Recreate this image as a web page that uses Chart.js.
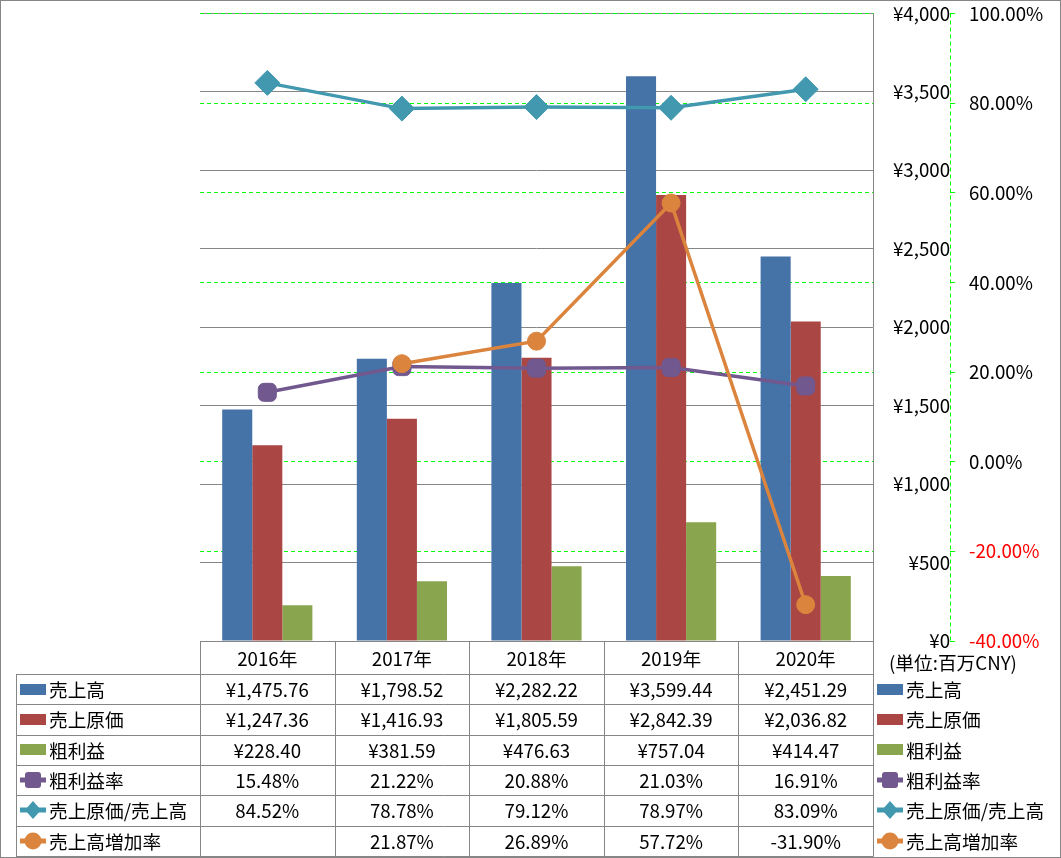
<!DOCTYPE html>
<html><head><meta charset="utf-8">
<script src="https://cdn.jsdelivr.net/npm/chart.js@4.4.0/dist/chart.umd.min.js"></script>
<style>
html,body{margin:0;padding:0;background:#fff;}
#wrap{position:relative;width:1061px;height:858px;overflow:hidden;}
#c{position:absolute;left:0;top:0;}
#tbl{position:absolute;left:0;top:0;width:1061px;height:858px;pointer-events:none;font-family:"Noto Sans CJK JP",sans-serif;font-size:18.7px;color:#000;}
#tbl div{position:absolute;white-space:nowrap;}
.ctr{text-align:center;}
</style></head><body>
<div id="wrap"><canvas id="c" width="1061" height="858"></canvas><div id="tbl"></div></div>
<script>
// ---- data ----
const years = ['2016年','2017年','2018年','2019年','2020年'];
const sales = [1475.76, 1798.52, 2282.22, 3599.44, 2451.29];
const cost = [1247.36, 1416.93, 1805.59, 2842.39, 2036.82];
const grossProfit = [228.40, 381.59, 476.63, 757.04, 414.47];
const grossMargin = [15.48, 21.22, 20.88, 21.03, 16.91];
const costRatio = [84.52, 78.78, 79.12, 78.97, 83.09];
const salesGrowth = [null, 21.87, 26.89, 57.72, -31.90];
const seriesNames = ['売上高', '売上原価', '粗利益', '粗利益率', '売上原価/売上高', '売上高増加率'];
const unitLabel = '(単位:百万CNY)';
const yenAxis = {min: 0, max: 4000, step: 500};
const pctAxis = {min: -40, max: 100, step: 20};

// ---- styles ----
const colors = ['#4572A7', '#AA4643', '#89A54E', '#71588F', '#4198AF', '#DB843D'];
const FONT = '"Noto Sans CJK JP", sans-serif';
const GRID = '#868686';
const LIME = '#00FF00';

const yenFmt = v => '¥' + v.toLocaleString('en-US', {minimumFractionDigits: 2, maximumFractionDigits: 2});
const pctFmt = v => (v === null ? '' : v.toFixed(2) + '%');
const tableRows = [
  sales.map(yenFmt), cost.map(yenFmt), grossProfit.map(yenFmt),
  grossMargin.map(pctFmt), costRatio.map(pctFmt), salesGrowth.map(pctFmt)
];
const kinds = ['bar', 'bar', 'bar', 'square', 'diamond', 'circle'];

function iconSVG(kind, color) {
  if (kind === 'bar') return {w: 26, h: 11, svg: `<svg width="26" height="11"><rect width="26" height="11" fill="${color}"/></svg>`};
  let m = '';
  if (kind === 'square') m = `<rect x="5" y="1" width="16" height="16" rx="3" fill="${color}"/>`;
  if (kind === 'diamond') m = `<polygon points="13,0 21,9 13,18 5,9" fill="${color}"/>`;
  if (kind === 'circle') m = `<circle cx="13" cy="9" r="8.5" fill="${color}"/>`;
  return {w: 26, h: 18, svg: `<svg width="26" height="18"><line x1="0" y1="9" x2="26" y2="9" stroke="${color}" stroke-width="5"/>${m}</svg>`};
}

const HEADER_H = 33, ROW_H = 30.33;
let built = false;

const framePlugin = {
  id: 'frame',
  afterDraw(chart) {
    const ctx = chart.ctx;
    const y1 = chart.scales.y1;
    const ca = chart.chartArea;
    const n = years.length;
    const colW = (ca.right - ca.left) / n;
    const edges = [];
    for (let i = 0; i <= n; i++) edges.push(ca.left + i * colW);
    const top = ca.bottom, hb = top + HEADER_H, bottom = hb + ROW_H * 6;
    const a = v => Math.round(v) + 0.5;
    ctx.save();
    ctx.strokeStyle = GRID; ctx.lineWidth = 1;
    ctx.beginPath();
    ctx.moveTo(edges[0], a(top)); ctx.lineTo(edges[n], a(top));
    for (let k = 0; k <= 6; k++) { const y = a(hb + k * ROW_H); ctx.moveTo(16, y); ctx.lineTo(a(edges[n]), y); }
    ctx.moveTo(16.5, a(hb)); ctx.lineTo(16.5, a(bottom));
    edges.forEach(e => { ctx.moveTo(a(e), a(top)); ctx.lineTo(a(e), a(bottom)); });
    ctx.stroke();
    // outer border
    ctx.strokeRect(0.5, 0.5, chart.width - 1, chart.height - 1);
    // dashed secondary axis line
    ctx.strokeStyle = LIME; ctx.setLineDash([4, 3]);
    ctx.beginPath(); ctx.moveTo(a(y1.left), ca.top); ctx.lineTo(a(y1.left), ca.bottom); ctx.stroke();
    ctx.restore();

    if (built) return;
    built = true;
    const t = document.getElementById('tbl');
    let html = '';
    years.forEach((yr, i) => {
      html += `<div class="ctr" style="left:${edges[i]}px;top:${top}px;width:${colW}px;height:${HEADER_H}px;line-height:${HEADER_H}px">${yr}</div>`;
    });
    seriesNames.forEach((name, r) => {
      const rt = hb + r * ROW_H, cy = rt + ROW_H / 2;
      const ic = iconSVG(kinds[r], colors[r]);
      html += `<div style="left:20px;top:${cy - ic.h / 2}px;width:${ic.w}px;height:${ic.h}px;line-height:0">${ic.svg}</div>`;
      html += `<div style="left:49px;top:${rt}px;height:${ROW_H}px;line-height:${ROW_H}px">${name}</div>`;
      tableRows[r].forEach((txt, i) => {
        html += `<div class="ctr" style="left:${edges[i]}px;top:${rt}px;width:${colW}px;height:${ROW_H}px;line-height:${ROW_H}px">${txt}</div>`;
      });
      const lx = edges[n] + 4;
      html += `<div style="left:${lx}px;top:${cy - ic.h / 2}px;width:${ic.w}px;height:${ic.h}px;line-height:0">${ic.svg}</div>`;
      html += `<div style="left:${lx + 29}px;top:${rt}px;height:${ROW_H}px;line-height:${ROW_H}px">${name}</div>`;
    });
    html += `<div style="left:${edges[n] + 16}px;top:${top + 9}px;height:24px;line-height:24px">${unitLabel}</div>`;
    t.innerHTML = html;
  }
};

const barDs = (label, data, color) => ({type: 'bar', label, data, backgroundColor: color, borderWidth: 0, yAxisID: 'y', order: 5});
const lineDs = (label, data, color, style, r, order) => ({
  type: 'line', label, data, borderColor: color, backgroundColor: color, borderWidth: 3.5,
  pointStyle: style, pointRadius: r, pointHoverRadius: r, pointBorderWidth: 1, pointBorderColor: color,
  pointBackgroundColor: color, tension: 0, yAxisID: 'y1', order, spanGaps: false
});

new Chart(document.getElementById('c'), {
  type: 'bar',
  data: {
    labels: years,
    datasets: [
      barDs(seriesNames[0], sales, colors[0]),
      barDs(seriesNames[1], cost, colors[1]),
      barDs(seriesNames[2], grossProfit, colors[2]),
      lineDs(seriesNames[3], grossMargin, colors[3], 'rectRounded', 10.5, 2),
      lineDs(seriesNames[4], costRatio, colors[4], 'rectRot', 12.5, 1),
      lineDs(seriesNames[5], salesGrowth, colors[5], 'circle', 9, 0)
    ]
  },
  options: {
    responsive: false, maintainAspectRatio: false, animation: false,
    layout: {padding: {left: 200, top: 13, right: 0, bottom: 217}},
    datasets: {bar: {categoryPercentage: 0.67, barPercentage: 1}},
    plugins: {legend: {display: false}, tooltip: {enabled: false}},
    font: {family: FONT, size: 18.7},
    scales: {
      x: {display: false, offset: true},
      y: {
        type: 'linear', position: 'right', weight: 0, min: yenAxis.min, max: yenAxis.max,
        afterFit: s => { s.width = 77; s.paddingTop = 0; s.paddingBottom = 0; },
        ticks: {stepSize: yenAxis.step, callback: v => '¥' + v.toLocaleString('en-US'), crossAlign: 'far', padding: 19,
          color: '#000', font: {family: FONT, size: 18.7}},
        grid: {color: GRID, lineWidth: 1, drawTicks: false},
        border: {display: true, color: GRID, width: 1}
      },
      y1: {
        type: 'linear', position: 'right', weight: 1, min: pctAxis.min, max: pctAxis.max,
        afterFit: s => { s.width = 111; s.paddingTop = 0; s.paddingBottom = 0; },
        ticks: {stepSize: pctAxis.step, callback: v => v.toFixed(2) + '%', padding: 14,
          color: c => (c.tick && c.tick.value < 0 ? '#FF0000' : '#000'), font: {family: FONT, size: 18.7}},
        grid: {color: LIME, lineWidth: 1, tickLength: 5, drawOnChartArea: true, z: -1},
        border: {display: false, dash: [4, 3]}
      }
    }
  },
  plugins: [framePlugin]
});
</script>
</body></html>
